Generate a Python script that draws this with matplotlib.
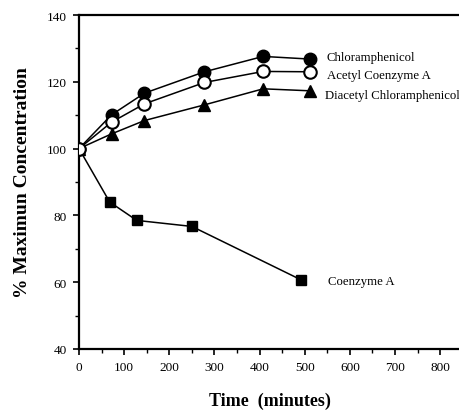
import matplotlib
matplotlib.use("Agg")
import matplotlib.pyplot as plt
from matplotlib.ticker import MultipleLocator

# Data
t_chlor = [0, 72, 145, 278, 408, 512]
chloramphenicol = [100, 110.1, 116.6, 123.0, 127.6, 126.8]

t_acetyl = [0, 72, 145, 278, 408, 512]
acetyl_coa = [100, 107.9, 113.4, 119.8, 123.1, 123.0]

t_diacetyl = [0, 72, 145, 278, 408, 512]
diacetyl = [100, 104.4, 108.4, 113.1, 117.9, 117.3]

t_coa = [0, 68, 128, 250, 492]
coenzyme_a = [100, 84.0, 78.5, 76.7, 60.7]

series_labels = ["Chloramphenicol", "Acetyl Coenzyme A",
                 "Diacetyl Chloramphenicol", "Coenzyme A"]
x_ticks = [0, 100, 200, 300, 400, 500, 600, 700, 800]
y_ticks = [40, 60, 80, 100, 120, 140]

plt.rcParams['font.family'] = ['Liberation Serif', 'DejaVu Serif']

fig = plt.figure(figsize=(4.6, 4.14), dpi=100)
ax = fig.add_axes([79/460, 64/414, (460-79)/460, (350-16)/414])

lw = 1.1
ax.plot(t_coa, coenzyme_a, color='black', lw=lw, marker='s', ms=7,
        mfc='black', mec='black', zorder=3)
ax.plot(t_diacetyl, diacetyl, color='black', lw=lw, marker='^', ms=9,
        mfc='black', mec='black', zorder=3)
ax.plot(t_chlor, chloramphenicol, color='black', lw=lw, marker='o', ms=9,
        mfc='black', mec='black', zorder=3)
ax.plot(t_acetyl, acetyl_coa, color='black', lw=lw, marker='o', ms=9,
        mfc='white', mec='black', mew=1.5, zorder=4)

ax.set_xlim(0, 844)
ax.set_ylim(40, 140)
ax.set_xticks(x_ticks)
ax.set_yticks(y_ticks)
ax.xaxis.set_minor_locator(MultipleLocator(50))
ax.yaxis.set_minor_locator(MultipleLocator(10))
ax.tick_params(which='major', direction='out', length=4, width=1.2, labelsize=9.5, pad=5)
ax.tick_params(which='minor', direction='out', length=3, width=1.0)

for s in ['left', 'bottom', 'top']:
    ax.spines[s].set_linewidth(1.6)
ax.spines['right'].set_visible(False)

# Direct labels placed to the right of each series
fs = 9.2
label_xy = [(549, 127.4), (549, 122.0), (545, 116.0), (552, 60.4)]
for lab, (x, y) in zip(series_labels, label_xy):
    ax.text(x, y, lab, fontsize=fs, va='center', ha='left')

ax.set_xlabel("Time  (minutes)", fontsize=13, fontweight='bold', labelpad=13)
ax.set_ylabel("% Maximun Concentration", fontsize=14, fontweight='bold', labelpad=11)

fig.savefig("out.png", dpi=100)
